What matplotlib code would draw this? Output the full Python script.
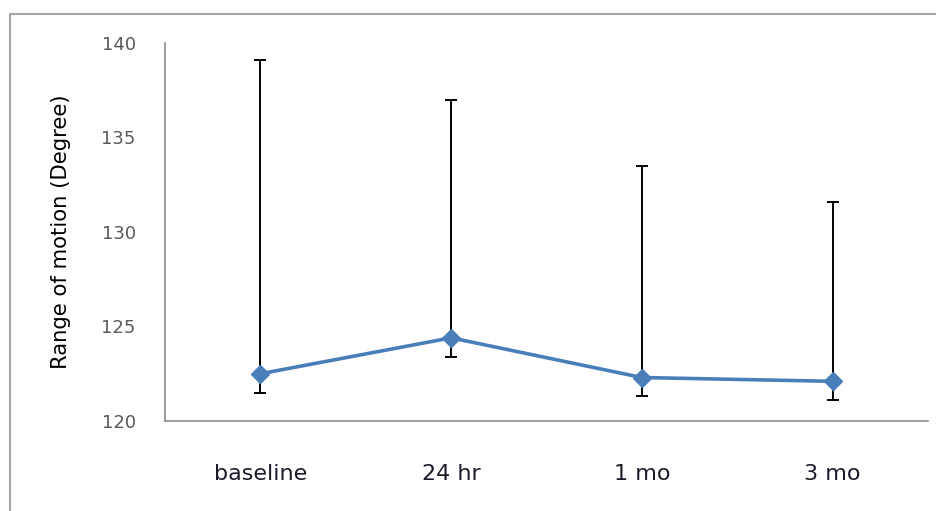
import matplotlib
matplotlib.use("Agg")
import matplotlib.pyplot as plt
from matplotlib.patches import Rectangle

categories = ["baseline", "24 hr", "1 mo", "3 mo"]
means = [122.5, 124.4, 122.3, 122.1]
err_low = [1.0, 1.0, 1.0, 1.0]
err_high = [16.6, 12.6, 11.2, 9.5]
yticks = [120, 125, 130, 135, 140]

plt.rcParams['font.family'] = ['DejaVu Sans']

fig = plt.figure(figsize=(9.37, 5.11), dpi=100)
ax = fig.add_axes([165/937, 1-421/511, (928-165)/937, (421-43)/511])

x = list(range(len(categories)))
ax.errorbar(x, means, yerr=[err_low, err_high], fmt='none', ecolor='black',
            elinewidth=1.4, capsize=4.5, capthick=1.4, zorder=2)
ax.plot(x, means, color='#4a7ebb', lw=2.6, marker='D', markersize=9.5,
        markerfacecolor='#4a7ebb', markeredgecolor='#4a7ebb', zorder=3)

ax.set_xlim(-0.5, len(categories)-0.5)
ax.set_ylim(120, 140)
ax.set_yticks(yticks)
ax.set_yticklabels([str(v) for v in yticks], fontsize=13, color='#595959')
ax.set_xticks(x)
ax.set_xticklabels(categories, fontsize=16, color='#1a1a2a')
ax.tick_params(axis='y', length=0, pad=21)
ax.tick_params(axis='x', length=0, pad=31)
for s in ['top', 'right']:
    ax.spines[s].set_visible(False)
for s in ['left', 'bottom']:
    ax.spines[s].set_color('#8c8c8c')
    ax.spines[s].set_linewidth(1.2)
ax.set_ylabel("Range of motion (Degree)", fontsize=15.2, color='black', labelpad=22)

fig.add_artist(Rectangle((10/937, -0.2), 1.2, 1.2 - 14/511, transform=fig.transFigure,
                         fill=False, edgecolor='#a6a6a6', linewidth=1.5))

fig.savefig("out.png", dpi=100)
